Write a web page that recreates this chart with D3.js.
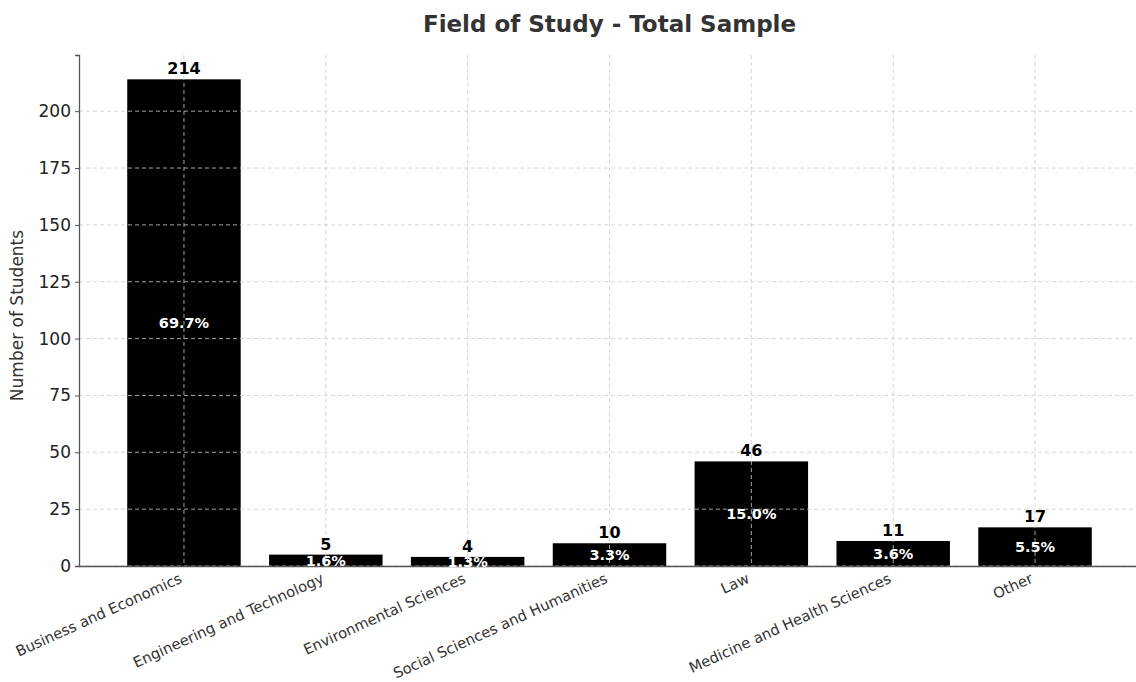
<!DOCTYPE html>
<html>
<head>
<meta charset="utf-8">
<script src="https://cdn.jsdelivr.net/npm/d3@7"></script>
<style>
  html, body { margin: 0; padding: 0; background: #fff; }
  svg { display: block; font-family: "DejaVu Sans", sans-serif; }
</style>
</head>
<body>
<svg id="chart" width="1136" height="682"></svg>
<script>
// Field of study counts for the total sample
const categories = [
  "Business and Economics",
  "Engineering and Technology",
  "Environmental Sciences",
  "Social Sciences and Humanities",
  "Law",
  "Medicine and Health Sciences",
  "Other"
];
const counts = [214, 5, 4, 10, 46, 11, 17];
const yTicks = [0, 25, 50, 75, 100, 125, 150, 175, 200];

const total = d3.sum(counts);
const data = categories.map((c, i) => ({ cat: c, n: counts[i], pct: counts[i] / total * 100 }));

const svg = d3.select("#chart");
const plotLeft = 79, plotRight = 1140, plotTop = 55, plotBottom = 566;

// Category positions: index scale with padding like a bar plot
const x = d3.scaleLinear().domain([-0.74, categories.length - 1 + 0.74]).range([plotLeft, plotRight]);
const barW = x(0.8) - x(0);
const y = d3.scaleLinear().domain([0, d3.max(counts) * 1.05]).range([plotBottom, plotTop]);

// Bars
svg.append("g").selectAll("rect").data(data).join("rect")
  .attr("x", (d, i) => x(i) - barW / 2)
  .attr("width", barW)
  .attr("y", d => y(d.n))
  .attr("height", d => y(0) - y(d.n))
  .attr("fill", "#000");

// Dashed grid, drawn over the bars
const grid = svg.append("g").attr("stroke", "#cccccc").attr("stroke-width", 0.8).attr("stroke-dasharray", "4,3");
grid.selectAll("line.h").data(yTicks).join("line")
  .attr("class", "h")
  .attr("x1", plotLeft).attr("x2", plotRight)
  .attr("y1", d => y(d)).attr("y2", d => y(d));
grid.selectAll("line.v").data(categories).join("line")
  .attr("class", "v")
  .attr("x1", (d, i) => x(i)).attr("x2", (d, i) => x(i))
  .attr("y1", plotTop).attr("y2", plotBottom);

// Y axis
const yAxis = svg.append("g").attr("transform", `translate(${plotLeft},0)`)
  .call(d3.axisLeft(y).tickValues(yTicks).tickSize(4).tickPadding(4));
yAxis.select(".domain").attr("stroke", "#555").attr("stroke-width", 1.3);
yAxis.selectAll(".tick line").attr("stroke", "#555");
yAxis.selectAll(".tick text").attr("font-size", 17).attr("fill", "#222")
  .attr("font-family", "DejaVu Sans, sans-serif");

// X axis with rotated category labels
const xAxis = svg.append("g").attr("transform", `translate(0,${plotBottom})`)
  .call(d3.axisBottom(x).tickValues(d3.range(categories.length)).tickFormat(i => categories[i]).tickSize(0).tickPadding(0));
xAxis.select(".domain").attr("stroke", "#555").attr("stroke-width", 1.3);
xAxis.selectAll(".tick text")
  .attr("font-size", 14.7).attr("fill", "#333")
  .attr("font-family", "DejaVu Sans, sans-serif")
  .attr("text-anchor", "end")
  .attr("dy", null).attr("y", 0)
  .attr("transform", "translate(-1.5,16) rotate(-24.5)");

// Count labels above bars
svg.append("g").selectAll("text").data(data).join("text")
  .attr("x", (d, i) => x(i))
  .attr("y", d => y(d.n) - 5)
  .attr("text-anchor", "middle")
  .attr("font-size", 16).attr("font-weight", "bold").attr("fill", "#000")
  .text(d => d.n);

// Percentage labels inside bars
svg.append("g").selectAll("text").data(data).join("text")
  .attr("x", (d, i) => x(i))
  .attr("y", d => y(d.n / 2))
  .attr("dy", "0.36em")
  .attr("text-anchor", "middle")
  .attr("font-size", 14.5).attr("font-weight", "bold").attr("fill", "#fff")
  .text(d => d.pct.toFixed(1) + "%");

// Y axis title
svg.append("text")
  .attr("transform", `translate(23,${(plotTop + plotBottom) / 2 + 5}) rotate(-90)`)
  .attr("text-anchor", "middle")
  .attr("font-size", 17).attr("fill", "#333")
  .text("Number of Students");

// Chart title
svg.append("text")
  .attr("x", (plotLeft + plotRight) / 2).attr("y", 32)
  .attr("text-anchor", "middle")
  .attr("font-size", 23).attr("font-weight", "bold").attr("fill", "#333")
  .text("Field of Study - Total Sample");
</script>
</body>
</html>
